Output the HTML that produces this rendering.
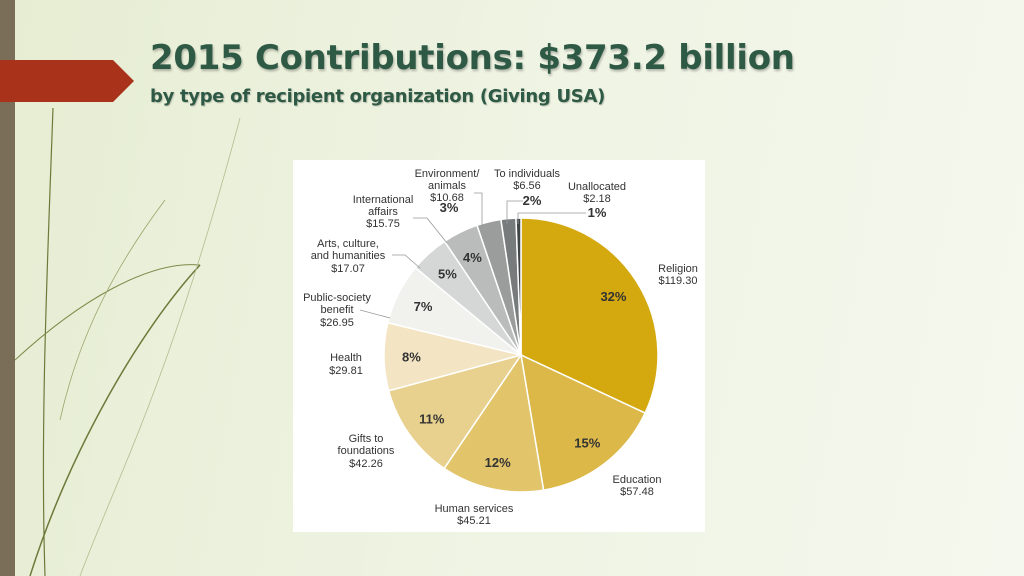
<!DOCTYPE html>
<html><head><meta charset="utf-8">
<style>
body{margin:0;width:1024px;height:576px;overflow:hidden;position:relative;font-family:"Liberation Sans",sans-serif;
background:linear-gradient(100deg,#e6edd2 0%,#eef3e2 45%,#f5f8ee 100%);}
.t{position:absolute;white-space:nowrap}
</style></head><body>
<div style="position:absolute;left:0;top:0;width:15px;height:576px;background:#7a6e58"></div>
<svg style="position:absolute;left:0;top:0" width="300" height="576">
<path d="M53,108 C48,250 40,420 45,576" stroke="#6b7a3a" stroke-width="1.2" fill="none"/>
<path d="M15,360 C80,300 150,260 200,265" stroke="#7d8a4a" stroke-width="1" fill="none"/>
<path d="M30,576 C70,450 140,330 200,265" stroke="#6b7a3a" stroke-width="1.5" fill="none"/>
<path d="M165,200 C120,260 80,330 60,420" stroke="#9aa36a" stroke-width="0.8" fill="none"/>
<path d="M80,576 C120,470 170,380 240,118" stroke="#b5bc90" stroke-width="0.8" fill="none"/>
</svg>
<svg style="position:absolute;left:0;top:60px" width="135" height="43"><polygon points="0,0 113,0 134,21 113,42 0,42" fill="#a8321a"/></svg>
<div class="t" style="left:150px;top:38px;font-family:'DejaVu Sans',sans-serif;font-size:34px;font-weight:bold;color:#2e5a45;text-shadow:1px 2px 2px rgba(0,0,0,.25);letter-spacing:-0.3px">2015 Contributions: $373.2 billion</div>
<div class="t" style="left:150px;top:86px;font-family:'DejaVu Sans',sans-serif;font-size:18px;font-weight:bold;color:#2e5a45;text-shadow:1px 1px 1px rgba(0,0,0,.2);letter-spacing:-0.3px">by type of recipient organization (Giving USA)</div>
<div style="position:absolute;left:293px;top:160px;width:412px;height:372px;background:#fff"></div>
<svg id="pie" style="position:absolute;left:0;top:0" width="1024" height="576" font-family="Liberation Sans, sans-serif"></svg>
<script>
const categories=["Religion","Education","Human services","Gifts to foundations","Health","Public-society benefit","Arts, culture, and humanities","International affairs","Environment/animals","To individuals","Unallocated"];
const values=[119.30,57.48,45.21,42.26,29.81,26.95,17.07,15.75,10.68,6.56,2.18];
const pctLabels=["32%","15%","12%","11%","8%","7%","5%","4%","3%","2%","1%"];
const colors=["#d4a80f","#dcb848","#e2c46a","#e8d08e","#f3e4c4","#f1f2ee","#d5d7d6","#b9bcbb","#9a9d9c","#777b7b","#3f4444"];
const svg=document.getElementById('pie');const NS="http://www.w3.org/2000/svg";
const cx=521,cy=355,r=137;
const total=values.reduce((a,b)=>a+b,0);
function pt(a,rr){return [cx+rr*Math.sin(a),cy-rr*Math.cos(a)];}
let a0=0;
values.forEach((v,i)=>{
  const a1=a0+v/total*2*Math.PI;
  const p0=pt(a0,r),p1=pt(a1,r);
  const p=document.createElementNS(NS,'path');
  p.setAttribute('d',`M${cx},${cy}L${p0[0]},${p0[1]}A${r},${r} 0 ${a1-a0>Math.PI?1:0} 1 ${p1[0]},${p1[1]}Z`);
  p.setAttribute('fill',colors[i]);p.setAttribute('stroke','#fff');p.setAttribute('stroke-width','1.5');
  
  
  svg.appendChild(p);
  if(i<8){
    const m=pt((a0+a1)/2,r*0.8);
    const t=document.createElementNS(NS,'text');
    t.setAttribute('x',m[0]);t.setAttribute('y',m[1]+5);t.setAttribute('text-anchor','middle');
    t.setAttribute('font-size','13');t.setAttribute('font-weight','bold');t.setAttribute('fill','#333');
    
    
    t.textContent=pctLabels[i];svg.appendChild(t);
  }
  a0=a1;
});
const lab=[
 [678,[268,280],["Religion","$119.30"]],
 [637,[479,491],["Education","$57.48"]],
 [474,[508,520],["Human services","$45.21"]],
 [366,[438,450,463],["Gifts to","foundations","$42.26"]],
 [346,[357,370],["Health","$29.81"]],
 [337,[297,309,322],["Public-society","benefit","$26.95"]],
 [348,[243,255,268],["Arts, culture,","and humanities","$17.07"]],
 [383,[199,211,223],["International","affairs","$15.75"]],
 [447,[173,185,197],["Environment/","animals","$10.68"]],
 [527,[173,185],["To individuals","$6.56"]],
 [597,[186,198],["Unallocated","$2.18"]]
];
lab.forEach(l=>{l[1].forEach((y,k)=>{
  const t=document.createElementNS(NS,'text');
  t.setAttribute('x',l[0]);t.setAttribute('y',y+4);t.setAttribute('text-anchor','middle');
  t.setAttribute('font-size','11');t.setAttribute('fill','#333');
  
  
  t.textContent=l[2][k];svg.appendChild(t);});});
[[449,212,"3%"],[532,205,"2%"],[597,217,"1%"]].forEach(s=>{
  const t=document.createElementNS(NS,'text');
  t.setAttribute('x',s[0]);t.setAttribute('y',s[1]);t.setAttribute('text-anchor','middle');
  t.setAttribute('font-size','13');t.setAttribute('font-weight','bold');t.setAttribute('fill','#333');
  
  
  t.textContent=s[2];svg.appendChild(t);});
["M413,218H427L447,243","M392,255H405L420,268","M360,310L390,318","M474,193H482L482,225","M523,201H507V224","M586,213H518V224"].forEach(d=>{
  const p=document.createElementNS(NS,'path');p.setAttribute('d',d);p.setAttribute('stroke','#999');p.setAttribute('fill','none');p.setAttribute('stroke-width','0.8');
  
  
  svg.appendChild(p);});
</script>
</body></html>
